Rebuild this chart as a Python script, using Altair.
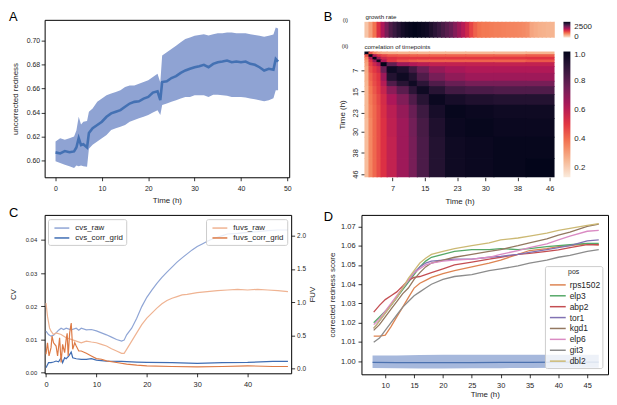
import altair as alt
import pandas as pd

FONT = "Liberation Sans"
INK = "#262626"
ROCKET = ["#FAEBDD", "#F6B48F", "#F37651", "#E13342", "#AD1759", "#701F57", "#35193E", "#03051A"]

# ---------------- Panel A: uncorrected redness ----------------
a_t = [0, 1, 2, 3, 4, 4.5, 5, 5.5, 6, 6.8, 7.2, 8, 9, 10, 11, 12, 13, 14, 15, 16, 17, 18, 19, 20, 21, 22,
       22.6, 23, 24, 25, 26, 27, 28, 29, 30, 31, 32, 33, 34, 35, 36, 37, 38, 39, 40, 41, 42, 43, 44, 45,
       46, 47, 47.5, 48]
a_mean = [0.6069, 0.6060, 0.6080, 0.6070, 0.6077,
          0.6110, 0.6187, 0.6130, 0.6137, 0.6110, 0.6230,
          0.6270, 0.6297, 0.6324, 0.6365, 0.6393, 0.6407, 0.6420, 0.6448, 0.6475, 0.6489, 0.6494, 0.6516,
          0.6530, 0.6566, 0.6577,
          0.6503,
          0.6654, 0.6660, 0.6687, 0.6703, 0.6730, 0.6750, 0.6764, 0.6777, 0.6786, 0.6797, 0.6777, 0.6805,
          0.6819, 0.6824, 0.6832, 0.6819, 0.6824, 0.6819, 0.6824, 0.6805, 0.6797, 0.6777, 0.6750, 0.6764,
          0.6756,
          0.6846, 0.6824]
a_lo = [0.5995, 0.5981, 0.5967, 0.5953, 0.5940,
        0.5960, 0.5953, 0.5960, 0.5953, 0.5950, 0.6100,
        0.6132, 0.6160, 0.6187, 0.6214, 0.6255, 0.6269, 0.6283, 0.6297, 0.6324, 0.6338, 0.6352, 0.6365,
        0.6379, 0.6400, 0.6420,
        0.6380,
        0.6462, 0.6475, 0.6489, 0.6503, 0.6516, 0.6530, 0.6530, 0.6544, 0.6544, 0.6544, 0.6530, 0.6549,
        0.6549, 0.6544, 0.6540, 0.6530, 0.6530, 0.6530, 0.6525, 0.6516, 0.6510, 0.6503, 0.6495, 0.6503,
        0.6520,
        0.6585, 0.6585]
a_hi = [0.6159, 0.6187, 0.6173, 0.6187, 0.6201,
        0.6250, 0.6365, 0.6300, 0.6324, 0.6330, 0.6407,
        0.6434, 0.6489, 0.6516, 0.6544, 0.6558, 0.6571, 0.6585, 0.6613, 0.6626, 0.6626, 0.6640, 0.6654,
        0.6668, 0.6695, 0.6723,
        0.6650,
        0.6874, 0.6901, 0.6929, 0.6956, 0.6984, 0.7011, 0.7025, 0.7038, 0.7045, 0.7052, 0.7040, 0.7052,
        0.7060, 0.7060, 0.7066, 0.7066, 0.7060, 0.7060, 0.7060, 0.7052, 0.7045, 0.7038, 0.7030, 0.7038,
        0.7050,
        0.7107, 0.7100]

# ---------------- Panel B: growth rate strip + correlation heatmap ----------------
growth_t0 = list(range(48))
growth_v = [150, 500, 900, 1500, 2000, 2500, 2900, 3100, 3300, 3500,
            3600, 3650, 3700, 3650, 3600, 3550, 3400, 3250, 3100, 2950,
            2800, 2650, 2400, 2150, 1900, 1650, 1300, 1050, 900, 850,
            850, 820, 800, 800, 780, 760, 750, 740, 720, 700,
            650, 450, 400, 350, 330, 300, 300, 280]
T_END = 47.2
OVERLAP = 0.3  # cells reach slightly under their right/lower neighbour so no seams show
heat_bounds = [0, 1, 2, 3, 4, 5.5, 8, 11, 13, 16, 20, 25, 32, 40, 47.2]
heat_vals = [
    [1.00, 0.45, 0.35, 0.30, 0.28, 0.27, 0.26, 0.26, 0.25, 0.25, 0.25, 0.25, 0.25, 0.26],
    [0.45, 1.00, 0.62, 0.52, 0.47, 0.44, 0.43, 0.42, 0.42, 0.42, 0.42, 0.42, 0.42, 0.43],
    [0.36, 0.62, 1.00, 0.68, 0.56, 0.52, 0.50, 0.50, 0.50, 0.50, 0.50, 0.50, 0.50, 0.51],
    [0.32, 0.52, 0.68, 1.00, 0.62, 0.50, 0.45, 0.43, 0.42, 0.42, 0.42, 0.42, 0.42, 0.44],
    [0.30, 0.48, 0.56, 0.64, 1.00, 0.78, 0.66, 0.62, 0.60, 0.58, 0.58, 0.58, 0.58, 0.58],
    [0.28, 0.45, 0.50, 0.55, 0.76, 0.97, 0.93, 0.85, 0.76, 0.68, 0.64, 0.62, 0.62, 0.62],
    [0.27, 0.42, 0.47, 0.51, 0.66, 0.92, 0.97, 0.92, 0.82, 0.74, 0.69, 0.66, 0.66, 0.66],
    [0.26, 0.40, 0.46, 0.50, 0.61, 0.82, 0.91, 0.97, 0.90, 0.82, 0.77, 0.74, 0.74, 0.74],
    [0.25, 0.38, 0.44, 0.49, 0.57, 0.70, 0.80, 0.90, 0.97, 0.91, 0.85, 0.83, 0.82, 0.82],
    [0.25, 0.37, 0.42, 0.47, 0.54, 0.63, 0.72, 0.82, 0.91, 0.98, 0.95, 0.93, 0.92, 0.92],
    [0.25, 0.36, 0.41, 0.46, 0.53, 0.60, 0.68, 0.77, 0.86, 0.95, 0.99, 0.98, 0.97, 0.97],
    [0.24, 0.35, 0.41, 0.46, 0.52, 0.59, 0.66, 0.75, 0.84, 0.93, 0.98, 0.99, 0.98, 0.98],
    [0.24, 0.35, 0.41, 0.46, 0.52, 0.58, 0.66, 0.74, 0.83, 0.92, 0.97, 0.98, 0.99, 0.99],
    [0.24, 0.35, 0.41, 0.46, 0.52, 0.58, 0.66, 0.74, 0.83, 0.92, 0.97, 0.98, 0.99, 1.00],
]
heat_ticks = [7, 15, 23, 30, 38, 46]

# ---------------- Panel C: CV / FUV ----------------
cvs_raw_t = [0, 0.5, 1, 1.5, 2, 2.5, 3, 3.5, 4, 5, 6, 6.5, 7, 8, 9, 10, 11, 12, 13, 14, 15, 15.5, 16, 17, 18,
             19, 20, 21, 22, 23, 24, 25, 26, 27, 28, 29, 30, 31, 32, 33, 34, 35, 36, 38, 40, 42, 44, 46, 48]
cvs_raw_v = [0.0125, 0.0115, 0.0110, 0.0113, 0.0120, 0.0128, 0.0134, 0.0130, 0.0134,
             0.0129, 0.0134, 0.0128, 0.0134, 0.0129, 0.0130, 0.0126, 0.0120, 0.0114, 0.0107,
             0.0100, 0.0095, 0.0098, 0.0114, 0.0134, 0.0164, 0.0199, 0.0227, 0.0249, 0.0269,
             0.0287, 0.0303, 0.0318, 0.0333, 0.0346, 0.0358, 0.0370, 0.0380, 0.0388, 0.0396,
             0.0403, 0.0408, 0.0413, 0.0418, 0.0420, 0.0423, 0.0425, 0.0428, 0.0430, 0.0430]
cvs_corr_t = [0, 0.5, 1, 1.5, 2, 2.5, 3, 3.3, 3.7, 4, 4.5, 5, 5.3, 6, 7, 8, 9, 10, 12, 15, 18, 20, 25, 30,
              35, 40, 45, 48]
cvs_corr_v = [0.0015, 0.0030, 0.0030, 0.0032, 0.0035, 0.0033, 0.0045, 0.0030, 0.0045, 0.0042,
              0.0050, 0.0062, 0.0045, 0.0042, 0.0040, 0.0040, 0.0042, 0.0038, 0.0035, 0.0034,
              0.0032, 0.0031, 0.0030, 0.0028, 0.0030, 0.0031, 0.0034, 0.0034]
fuvs_raw_t = [0, 0.3, 0.7, 1, 1.5, 2, 3, 4, 5, 6, 7, 8, 9, 10, 11, 12, 13, 14, 15, 15.5, 16, 17, 18, 19,
              20, 21, 22, 23, 24, 25, 26, 27, 28, 30, 32, 34, 36, 38, 40, 42, 44, 46, 48]
fuvs_raw_v = [0.985, 0.786, 0.613, 0.563, 0.513, 0.538, 0.513, 0.464, 0.439, 0.414,
              0.389, 0.414, 0.400, 0.389, 0.365, 0.340, 0.300, 0.265, 0.230,
              0.230, 0.290, 0.414, 0.538, 0.662, 0.761, 0.836, 0.910, 0.975, 1.024,
              1.059, 1.084, 1.109, 1.118, 1.143, 1.158, 1.173, 1.183, 1.193, 1.183,
              1.193, 1.183, 1.173, 1.158]
fuvs_corr_t = [0, 0.3, 0.6, 1, 1.2, 1.5, 2, 2.3, 2.7, 3, 3.3, 3.7, 4, 4.2, 4.4, 4.7, 5, 5.3, 5.7, 6, 6.5,
               7, 8, 9, 10, 11, 12, 14, 16, 18, 20, 25, 30, 35, 40, 45, 48]
fuvs_corr_v = [0.216, 0.389, 0.190, 0.315, 0.489, 0.389, 0.340, 0.190, 0.464, 0.092,
               0.364, 0.240, 0.439, 0.530, 0.190, 0.538, 0.687, 0.290, 0.389, 0.340,
               0.265, 0.265, 0.230, 0.190, 0.151, 0.141, 0.117, 0.092, 0.067, 0.052,
               0.042, 0.032, 0.027, 0.032, 0.042, 0.032, 0.032]
cvs_names = ["cvs_raw", "cvs_corr_grid"]
cvs_colors = ["#8FA5D5", "#3F6DB3"]
fuvs_names = ["fuvs_raw", "fuvs_corr_grid"]
fuvs_colors = ["#EFB392", "#DD7A45"]

# ---------------- Panel D: corrected redness score ----------------
d_t = [8, 9, 10, 11, 12, 13, 14, 15, 16, 17, 18, 20, 22, 25, 28, 30, 33, 35, 38, 40, 42, 45, 47]
d_rps1502 = [1.0130, 1.0130, 1.0135, 1.0180, 1.0230, 1.0280, 1.0330, 1.0380, 1.0405, 1.0420, 1.0435, 1.0455,
             1.0470, 1.0490, 1.0510, 1.0525, 1.0555, 1.0575, 1.0585, 1.0595, 1.0600, 1.0610, 1.0605]
d_elp3 = [1.0200, 1.0230, 1.0260, 1.0290, 1.0330, 1.0370, 1.0410, 1.0450, 1.0490, 1.0520, 1.0540, 1.0555,
          1.0570, 1.0580, 1.0580, 1.0585, 1.0580, 1.0585, 1.0595, 1.0600, 1.0605, 1.0612, 1.0612]
d_abp2 = [1.0255, 1.0290, 1.0320, 1.0340, 1.0360, 1.0390, 1.0420, 1.0435, 1.0440, 1.0450, 1.0460, 1.0480,
          1.0500, 1.0515, 1.0530, 1.0540, 1.0555, 1.0560, 1.0570, 1.0578, 1.0590, 1.0605, 1.0605]
d_tor1 = [1.0170, 1.0210, 1.0250, 1.0290, 1.0330, 1.0380, 1.0420, 1.0460, 1.0490, 1.0510, 1.0520, 1.0525,
          1.0530, 1.0530, 1.0540, 1.0545, 1.0555, 1.0565, 1.0580, 1.0590, 1.0600, 1.0625, 1.0630]
d_kgd1 = [1.0160, 1.0190, 1.0230, 1.0270, 1.0310, 1.0350, 1.0380, 1.0425, 1.0460, 1.0490, 1.0510, 1.0525,
          1.0540, 1.0555, 1.0570, 1.0580, 1.0600, 1.0615, 1.0635, 1.0655, 1.0670, 1.0700, 1.0712]
d_elp6 = [1.0190, 1.0220, 1.0260, 1.0300, 1.0340, 1.0380, 1.0420, 1.0460, 1.0480, 1.0500, 1.0510, 1.0520,
          1.0525, 1.0530, 1.0540, 1.0555, 1.0575, 1.0590, 1.0610, 1.0630, 1.0650, 1.0675, 1.0680]
d_git3 = [1.0098, 1.0120, 1.0160, 1.0200, 1.0240, 1.0280, 1.0310, 1.0340, 1.0360, 1.0380, 1.0400, 1.0425,
          1.0440, 1.0450, 1.0470, 1.0480, 1.0495, 1.0510, 1.0525, 1.0540, 1.0550, 1.0570, 1.0580]
d_dbl2 = [1.0170, 1.0210, 1.0250, 1.0290, 1.0330, 1.0380, 1.0430, 1.0470, 1.0510, 1.0535, 1.0555, 1.0570,
          1.0585, 1.0600, 1.0615, 1.0630, 1.0640, 1.0650, 1.0665, 1.0680, 1.0690, 1.0705, 1.0715]
gene_names = ["rps1502", "elp3", "abp2", "tor1", "kgd1", "elp6", "git3", "dbl2"]
gene_colors = ["#DD8452", "#55A868", "#C44E52", "#8172B3", "#937860", "#DA8BC3", "#8C8C8C", "#CCB974"]
ctrl_t = [7.8, 12, 16, 20, 25, 30, 35, 40, 44, 47]
ctrl_lo = [0.9965, 0.9963, 0.9962, 0.9962, 0.9963, 0.9964, 0.9965, 0.9966, 0.9966, 0.9966]
ctrl_hi = [1.0030, 1.0030, 1.0032, 1.0033, 1.0033, 1.0034, 1.0034, 1.0034, 1.0034, 1.0034]
ctrl_m = [0.9994, 0.9993, 0.9993, 0.9993, 0.9993, 0.9994, 0.9994, 0.9995, 0.9995, 0.9995]


def letter(s, x, y):
    return alt.Chart(pd.DataFrame({"s": [s]})).mark_text(
        align="left", baseline="top", font=FONT, fontSize=13, color="black"
    ).encode(text="s:N", x=alt.value(x), y=alt.value(y))


def note(s, x, y, size=6.3):
    return alt.Chart(pd.DataFrame({"s": [s]})).mark_text(
        align="left", baseline="middle", font=FONT, fontSize=size, color=INK
    ).encode(text="s:N", x=alt.value(x), y=alt.value(y))


# ---------- A ----------
dfA = pd.DataFrame({"t": a_t, "m": a_mean, "lo": a_lo, "hi": a_hi})
scAx = alt.Scale(domain=[-2.35, 50.4], nice=False, zero=False)
scAy = alt.Scale(domain=[0.5862, 0.7171], nice=False, zero=False)
axAx = alt.Axis(values=[0, 10, 20, 30, 40, 50], title="Time (h)")
axAy = alt.Axis(values=[0.60, 0.62, 0.64, 0.66, 0.68, 0.70], format=".2f",
                title="uncorrected redness", labelPadding=1.5, titlePadding=7)
bandA = alt.Chart(dfA).mark_area(color="#8FA3D3").encode(
    x=alt.X("t:Q", scale=scAx, axis=axAx),
    y=alt.Y("lo:Q", scale=scAy, axis=axAy), y2="hi:Q")
lineA = alt.Chart(dfA).mark_line(color="#4471B3", strokeWidth=2.6).encode(
    x=alt.X("t:Q", scale=scAx, axis=axAx),
    y=alt.Y("m:Q", scale=scAy, axis=axAy))
A = alt.layer(bandA, lineA, letter("A", -36, -9)).properties(width=247, height=159)

# ---------- B ----------
dfG = pd.DataFrame({"t0": growth_t0, "g": growth_v})
dfG["t1"] = [min(t + 1.0 + OVERLAP, T_END) for t in growth_t0]
hrows = []
for i in range(len(heat_bounds) - 1):
    for j in range(len(heat_bounds) - 1):
        hrows.append({"x0": heat_bounds[j], "x1": min(heat_bounds[j + 1] + OVERLAP, T_END),
                      "y0": heat_bounds[i], "y1": min(heat_bounds[i + 1] + OVERLAP, T_END),
                      "c": heat_vals[i][j]})
dfH = pd.DataFrame(hrows)

scBx = alt.Scale(domain=[0, T_END], range=[3, 195], nice=False, zero=False)
axBx = alt.Axis(values=heat_ticks, title="Time (h)", labelFontSize=7.5)
scBy = alt.Scale(domain=[0, T_END], range=[32, 159], nice=False, zero=False)
axBy = alt.Axis(values=heat_ticks, title="Time (h)", labelAngle=270, offset=-3,
                labelFontSize=7.5, labelPadding=2, titlePadding=5)
scG = alt.Scale(domain=[-250, 3700], range=ROCKET, interpolate="rgb", nice=False, zero=False)
scH = alt.Scale(domain=[0.138, 1.0], range=ROCKET, interpolate="rgb", nice=False, zero=False)
legG = alt.Legend(type="gradient", orient="none", legendX=204, legendY=2, direction="vertical",
                  title=None, gradientLength=16, gradientThickness=7, values=[0, 2500], format="d",
                  labelOverlap=False, labelOffset=4, labelFontSize=8, padding=0,
                  gradientStrokeWidth=0, labelBaseline="middle")
legH = alt.Legend(type="gradient", orient="none", legendX=204, legendY=32, direction="vertical",
                  title=None, gradientLength=127, gradientThickness=7, values=[0.2, 0.4, 0.6, 0.8, 1.0],
                  format=".1f", labelOverlap=False, labelOffset=4, labelFontSize=8, padding=0,
                  gradientStrokeWidth=0, labelBaseline="middle")
strip = alt.Chart(dfG).mark_rect().encode(
    x=alt.X("t0:Q", scale=scBx, axis=axBx), x2="t1:Q",
    y=alt.value(2), y2=alt.value(18),
    color=alt.Color("g:Q", scale=scG, legend=legG))
heat = alt.Chart(dfH).mark_rect().encode(
    x=alt.X("x0:Q", scale=scBx, axis=axBx), x2="x1:Q",
    y=alt.Y("y0:Q", scale=scBy, axis=axBy), y2="y1:Q",
    color=alt.Color("c:Q", scale=scH, legend=legH))
B = alt.layer(
    strip, heat,
    note("(i)", -19, 0, 6), note("growth rate", 4, -3),
    note("(ii)", -20, 26, 6), note("correlation of timepoints", 3, 27),
    letter("B", -38, -9),
).resolve_scale(color="independent").properties(
    width=249, height=159, view=alt.ViewBackground(stroke="transparent"))

# ---------- C ----------
scCx = alt.Scale(domain=[-0.27, 48.64], nice=False, zero=False)
axCx = alt.Axis(values=[0, 10, 20, 30, 40], title=None, labelFontSize=7.5)
scCL = alt.Scale(domain=[-0.0002, 0.04755], nice=False, zero=False)
axCL = alt.Axis(orient="left", values=[0, 0.01, 0.02, 0.03, 0.04], format=".2f", title="CV",
                labelFontSize=6, tickSize=4, labelPadding=4, titlePadding=8)
scCR = alt.Scale(domain=[-0.071, 2.314], nice=False, zero=False)
axCR = alt.Axis(orient="right", values=[0, 0.5, 1.0, 1.5, 2.0], format=".1f", title="FUV",
                labelFontSize=6.5, labelPadding=2, titleAngle=270, titleBaseline="top", titlePadding=3)


def cleg(x):
    return alt.Legend(orient="none", legendX=x, legendY=4.3, title=None, symbolType="M-0.5,0L2.5,0",
                      symbolSize=100, symbolStrokeWidth=1.5, labelFontSize=8, labelOffset=12.6,
                      padding=3, rowPadding=0, fillColor="rgba(255,255,255,0.8)",
                      strokeColor="#CCCCCC", cornerRadius=2)


def cline(t, v, name, scy, axy, names, colors, leg):
    df = pd.DataFrame({"t": t, "v": v, "s": name})
    return alt.Chart(df).mark_line(strokeWidth=1.2).encode(
        x=alt.X("t:Q", scale=scCx, axis=axCx),
        y=alt.Y("v:Q", scale=scy, axis=axy),
        color=alt.Color("s:N", scale=alt.Scale(domain=names, range=colors), legend=leg))


legCv = cleg(3.4)
legFu = cleg(163)
cvsL = alt.layer(
    cline(cvs_raw_t, cvs_raw_v, "cvs_raw", scCL, axCL, cvs_names, cvs_colors, legCv),
    cline(cvs_corr_t, cvs_corr_v, "cvs_corr_grid", scCL, axCL, cvs_names, cvs_colors, legCv))
fuvsL = alt.layer(
    cline(fuvs_raw_t, fuvs_raw_v, "fuvs_raw", scCR, axCR, fuvs_names, fuvs_colors, legFu),
    cline(fuvs_corr_t, fuvs_corr_v, "fuvs_corr_grid", scCR, axCR, fuvs_names, fuvs_colors, legFu))
C = alt.layer(cvsL, fuvsL, letter("C", -36, -8)).resolve_scale(
    y="independent", color="independent").properties(width=249, height=160)

# ---------- D ----------
scDx = alt.Scale(domain=[5.88, 48.6], nice=False, zero=False)
axDx = alt.Axis(values=[10, 15, 20, 25, 30, 35, 40, 45], title="Time (h)", labelFontSize=7.5,
                titlePadding=2)
scDy = alt.Scale(domain=[0.9932, 1.0760], nice=False, zero=False)
axDy = alt.Axis(values=[1.00, 1.01, 1.02, 1.03, 1.04, 1.05, 1.06, 1.07], format=".2f",
                title="corrected redness score", labelFontSize=7.5, labelPadding=3, titlePadding=4)
gene_vals = [d_rps1502, d_elp3, d_abp2, d_tor1, d_kgd1, d_elp6, d_git3, d_dbl2]
dfD = pd.concat([pd.DataFrame({"t": d_t, "v": vals, "pos": name})
                 for name, vals in zip(gene_names, gene_vals)], ignore_index=True)
dfCtrl = pd.DataFrame({"t": ctrl_t, "lo": ctrl_lo, "hi": ctrl_hi, "m": ctrl_m})
legD = alt.Legend(orient="none", legendX=185.3, legendY=51.7, title="pos", titleAnchor="middle",
                  titleFontSize=7, titleFontWeight="normal", titlePadding=4,
                  symbolType="M-0.6,0L2.6,0", symbolSize=100, symbolStrokeWidth=1.5,
                  labelFontSize=8.5, labelOffset=11, padding=2, rowPadding=0,
                  fillColor="rgba(255,255,255,0.8)", strokeColor="#CCCCCC", cornerRadius=2)
bandD = alt.Chart(dfCtrl).mark_area(color="#A6B8DC").encode(
    x=alt.X("t:Q", scale=scDx, axis=axDx),
    y=alt.Y("lo:Q", scale=scDy, axis=axDy), y2="hi:Q")
ctrlD = alt.Chart(dfCtrl).mark_line(color="#4C72B0", strokeWidth=1.2).encode(
    x=alt.X("t:Q", scale=scDx, axis=axDx),
    y=alt.Y("m:Q", scale=scDy, axis=axDy))
genesD = alt.Chart(dfD).mark_line(strokeWidth=1.3).encode(
    x=alt.X("t:Q", scale=scDx, axis=axDx),
    y=alt.Y("v:Q", scale=scDy, axis=axDy),
    color=alt.Color("pos:N", scale=alt.Scale(domain=gene_names, range=gene_colors), legend=legD))
D = alt.layer(bandD, ctrlD, genesD, letter("D", -38, -4)).resolve_scale(
    color="independent").properties(width=249, height=161)

chart = alt.concat(
    A, B, C, D, columns=2, spacing={"row": 38, "column": 71}, bounds="flush"
).resolve_scale(
    color="independent"
).properties(
    padding={"left": 0, "top": 0, "right": 0, "bottom": 0}
).configure_axis(
    labelFont=FONT, titleFont=FONT, labelFontSize=7, titleFontSize=8, titleFontWeight="normal",
    labelColor=INK, titleColor=INK, tickColor="black", tickSize=3.5, tickWidth=0.8,
    domain=False, grid=False, labelFlush=False, labelPadding=2
).configure_axisX(
    labelPadding=3.5, titlePadding=5.5
).configure_view(
    stroke="black", strokeWidth=1
).configure_legend(
    labelFont=FONT, titleFont=FONT, labelColor=INK, titleColor=INK
)

chart.save("out.html", embed_options={"renderer": "svg", "actions": False})
